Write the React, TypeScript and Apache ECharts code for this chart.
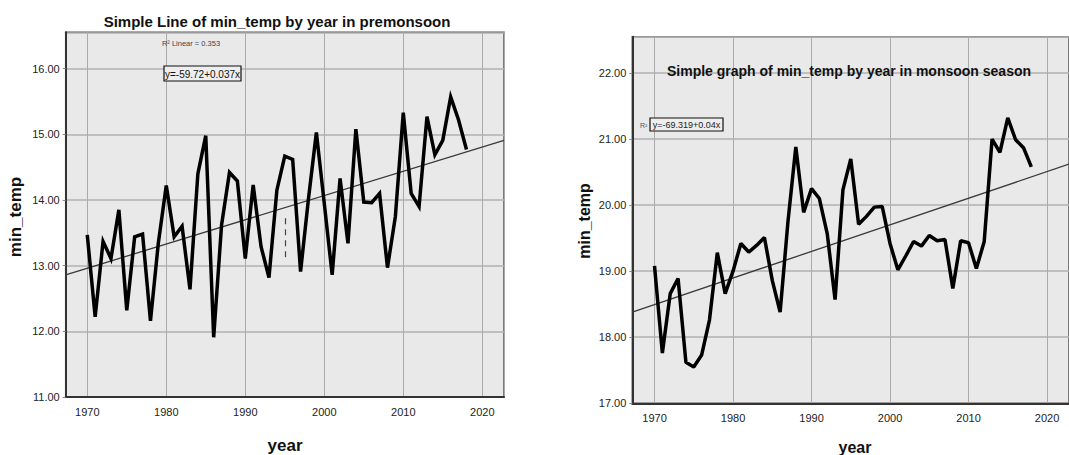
import React, { useEffect, useRef } from "react";
import * as echarts from "echarts";

const years = [1970,1971,1972,1973,1974,1975,1976,1977,1978,1979,1980,1981,1982,1983,1984,1985,1986,1987,1988,1989,1990,1991,1992,1993,1994,1995,1996,1997,1998,1999,2000,2001,2002,2003,2004,2005,2006,2007,2008,2009,2010,2011,2012,2013,2014,2015,2016,2017,2018];

const premonsoon = [13.47,12.22,13.37,13.11,13.85,12.32,13.44,13.48,12.16,13.35,14.22,13.44,13.6,12.64,14.4,14.98,11.91,13.62,14.42,14.29,13.11,14.23,13.29,12.82,14.15,14.67,14.62,12.91,14.02,15.03,13.95,12.86,14.33,13.34,15.08,13.97,13.96,14.1,12.97,13.75,15.33,14.1,13.9,15.27,14.69,14.91,15.57,15.22,14.77];

const monsoon = [19.08,17.76,18.66,18.89,17.62,17.55,17.73,18.26,19.28,18.66,19.0,19.42,19.29,19.39,19.51,18.86,18.38,19.75,20.88,19.89,20.25,20.1,19.57,18.57,20.23,20.7,19.71,19.83,19.97,19.98,19.42,19.02,19.23,19.45,19.38,19.54,19.46,19.48,18.74,19.46,19.43,19.04,19.45,21.0,20.8,21.32,20.99,20.87,20.58];

const preTrendX = [1967.27, 2022.75];
const preTrendY = [12.86, 14.91];
const monTrendX = [1967.17, 2022.8];
const monTrendY = [18.38, 20.62];

const preDashX = 1995;
const preDashY = [13.13, 13.78];

const preTitle = "Simple Line of min_temp by year in premonsoon";
const monTitle = "Simple graph of min_temp by year in monsoon season";
const preEq = "y=-59.72+0.037x";
const monEq = "y=-69.319+0.04x";
const preR2 = "R² Linear = 0.353";

const FONT = "'Liberation Sans', Arial, sans-serif";

export default function App() {
  const ref = useRef<HTMLDivElement>(null);
  useEffect(() => {
    if (!ref.current) return;
    const chart = echarts.init(ref.current, null, { renderer: "svg" });
    const gridBase = {
      show: true,
      backgroundColor: "#e9e9e9",
      borderColor: "#555",
      borderWidth: 1.5,
      containLabel: false,
    };
    const xAxisBase = (min: number, max: number, gi: number) => ({
      type: "value",
      gridIndex: gi,
      min,
      max,
      axisLine: { show: true, lineStyle: { color: "#333", width: 2 } },
      axisTick: { show: false },
      axisLabel: {
        margin: 9,
        fontSize: 11,
        color: "#222",
        fontFamily: FONT,
        showMinLabel: false,
        showMaxLabel: false,
        formatter: (v: number) => (Math.abs(v % 10) < 1e-6 ? String(v) : ""),
      },
      splitLine: { show: true, lineStyle: { color: "#aaa", width: 1 } },
    });
    const yAxisBase = (min: number, max: number, gi: number) => ({
      type: "value",
      gridIndex: gi,
      min,
      max,
      axisLine: { show: true, lineStyle: { color: "#333", width: 2 } },
      axisTick: { show: true, length: 3, lineStyle: { color: "#888" } },
      axisLabel: {
        margin: 6,
        fontSize: 11,
        color: "#222",
        fontFamily: FONT,
        showMaxLabel: false,
        formatter: (v: number) => (Math.abs(v - Math.round(v)) < 1e-6 ? v.toFixed(2) : ""),
      },
      splitLine: { show: true, lineStyle: { color: "#b0b0b0", width: 1.5 } },
    });

    const option: any = {
      animation: false,
      backgroundColor: "#ffffff",
      grid: [
        { ...gridBase, left: 65.7, top: 32.3, width: 438.3, height: 364.7 },
        { ...gridBase, left: 632.3, top: 36.7, width: 445.7, height: 366.6 },
      ],
      xAxis: [xAxisBase(1967.27, 2022.75, 0), xAxisBase(1967.17, 2022.8, 1)],
      yAxis: [yAxisBase(11, 16.555, 0), yAxisBase(17, 22.55, 1)],
      series: [
        {
          type: "line",
          xAxisIndex: 0,
          yAxisIndex: 0,
          data: preTrendX.map((x, i) => [x, preTrendY[i]]),
          symbol: "none",
          lineStyle: { color: "#3a3a3a", width: 1.3 },
          z: 3,
        },
        {
          type: "line",
          xAxisIndex: 0,
          yAxisIndex: 0,
          data: years.map((y, i) => [y, premonsoon[i]]),
          symbol: "none",
          lineStyle: { color: "#000", width: 3.5, join: "miter" },
          z: 4,
          markLine: {
            silent: true,
            symbol: "none",
            label: { show: false },
            lineStyle: { color: "#444", type: [6, 5], width: 1.2 },
            data: [[{ coord: [preDashX, preDashY[0]] }, { coord: [preDashX, preDashY[1]] }]],
          },
        },
        {
          type: "line",
          xAxisIndex: 1,
          yAxisIndex: 1,
          data: monTrendX.map((x, i) => [x, monTrendY[i]]),
          symbol: "none",
          lineStyle: { color: "#3a3a3a", width: 1.3 },
          z: 3,
        },
        {
          type: "line",
          xAxisIndex: 1,
          yAxisIndex: 1,
          data: years.map((y, i) => [y, monsoon[i]]),
          symbol: "none",
          lineStyle: { color: "#000", width: 3.5 },
          z: 4,
        },
      ],
      graphic: [
        {
          type: "text",
          x: 277,
          y: 21,
          style: { text: preTitle, font: `bold 15px ${FONT}`, fill: "#111", align: "center", verticalAlign: "middle" },
        },
        {
          type: "text",
          x: 849,
          y: 71,
          z: 10,
          style: { text: monTitle, font: `bold 14px ${FONT}`, fill: "#111", align: "center", verticalAlign: "middle" },
        },
        {
          type: "text",
          x: 15,
          y: 217,
          rotation: Math.PI / 2,
          style: { text: "min_temp", font: `bold 17px ${FONT}`, fill: "#111", align: "center", verticalAlign: "middle" },
        },
        {
          type: "text",
          x: 584,
          y: 221,
          rotation: Math.PI / 2,
          style: { text: "min_temp", font: `bold 16px ${FONT}`, fill: "#111", align: "center", verticalAlign: "middle" },
        },
        {
          type: "text",
          x: 285,
          y: 445,
          style: { text: "year", font: `bold 17px ${FONT}`, fill: "#111", align: "center", verticalAlign: "middle" },
        },
        {
          type: "text",
          x: 855,
          y: 447,
          style: { text: "year", font: `bold 16px ${FONT}`, fill: "#111", align: "center", verticalAlign: "middle" },
        },
        {
          type: "text",
          x: 191,
          y: 43,
          z: 10,
          style: { text: preR2, font: `7.5px ${FONT}`, fill: "#444", align: "center", verticalAlign: "middle" },
        },
        {
          type: "rect",
          z: 10,
          shape: { x: 164, y: 66, width: 77, height: 15 },
          style: { fill: "#eeeeee", stroke: "#111", lineWidth: 1.2 },
        },
        {
          type: "text",
          x: 202.5,
          y: 74,
          z: 11,
          style: { text: preEq, font: `10px ${FONT}`, fill: "#111", align: "center", verticalAlign: "middle" },
        },
        {
          type: "text",
          x: 640,
          y: 125,
          z: 12,
          style: { text: "R²", font: `7px ${FONT}`, fill: "#555", align: "left", verticalAlign: "middle" },
        },
        {
          type: "rect",
          z: 10,
          shape: { x: 650, y: 118, width: 73, height: 13 },
          style: { fill: "#eeeeee", stroke: "#111", lineWidth: 1.2 },
        },
        {
          type: "text",
          x: 686.5,
          y: 125,
          z: 11,
          style: { text: monEq, font: `9px ${FONT}`, fill: "#222", align: "center", verticalAlign: "middle" },
        },
      ],
    };
    chart.setOption(option);
    return () => chart.dispose();
  }, []);
  return (
    <div style={{ position: "fixed", left: 0, top: 0, width: 1069, height: 455, overflow: "hidden", background: "#fff" }}>
      <div ref={ref} style={{ width: 1069, height: 455 }} />
    </div>
  );
}
